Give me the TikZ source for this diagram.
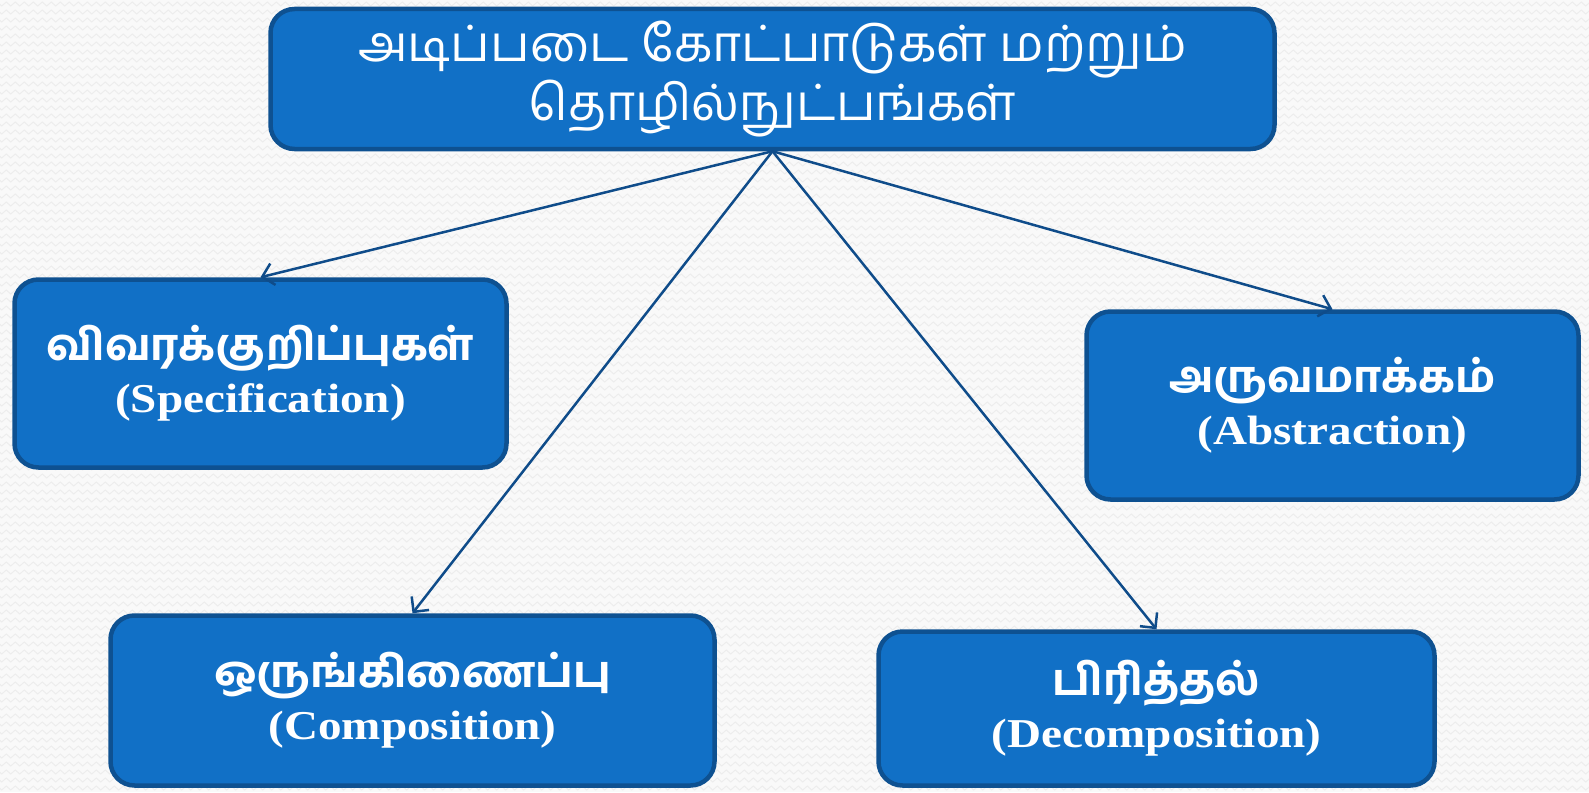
\documentclass[tikz,border=0pt]{standalone}
\usepackage{fontspec}
\setmainfont[FakeStretch=1.15]{Liberation Serif}
\newfontfamily\tamilfont[Script=Tamil, BoldFont={* Bold}]{Hind Madurai}
\usepackage{tikz}
\usetikzlibrary{calc, positioning, arrows.meta, decorations.pathmorphing}
\definecolor{boxfill}{HTML}{1170C6}
\definecolor{boxline}{HTML}{0E5191}
\definecolor{arrowcol}{HTML}{0F4C8A}
\definecolor{bgcol}{HTML}{F9F9F9}
\definecolor{bgzig}{HTML}{EDEDED}
\tikzset{
    root/.style={rectangle, rounded corners=24pt, draw=boxline, line width=4.5pt, fill=boxfill, text=white, align=center, font=\tamilfont\fontsize{50}{54}\selectfont},
    concept/.style={rectangle, rounded corners=24pt, draw=boxline, line width=4.5pt, fill=boxfill, text=white, align=center, font=\fontsize{41}{52}\selectfont\bfseries},
    arrow/.style={-{Straight Barb[length=11pt, width=22pt]}, line width=2.5pt, draw=arrowcol},
    zig/.style={draw=bgzig, line width=1pt, decorate, decoration={zigzag, segment length=9pt, amplitude=2pt}}
}
\newcommand{\tm}[1]{{\tamilfont\fontsize{43.5}{52}\selectfont #1}}
\begin{document}
\begin{tikzpicture}[x=1pt, y=-1pt]
        % Page
        \useasboundingbox (0,0) rectangle (1589,792);
        \begin{scope}
            \clip (0,0) rectangle (1589,792);
            \fill[bgcol] (0,0) rectangle (1589,792);
            \foreach \r in {4,12,...,796}
                \draw[zig] (-5,\r) -- (1595,\r);
        \end{scope}
        
        % Root
        \node[root, minimum width=1004pt, minimum height=140pt] (Root) at (772.5,79) {அடிப்படை கோட்பாடுகள் மற்றும்\\தொழில்நுட்பங்கள்};
        
        % Concepts
        \node[concept, minimum width=492pt, minimum height=188pt] (Spec) at (260.5,373.5) {\tm{விவரக்குறிப்புகள்}\\(Specification)};
        \node[concept, minimum width=492pt, minimum height=188pt] (Abst) at (1332.5,405.5) {\tm{அருவமாக்கம்}\\(Abstraction)};
        \node[concept, minimum width=604pt, minimum height=170pt] (Comp) at (412.5,700.5) {\tm{ஒருங்கிணைப்பு}\\(Composition)};
        \node[concept, minimum width=556pt, minimum height=154pt] (Decomp) at (1156.5,708.5) {\tm{பிரித்தல்}\\(Decomposition)};
        
        \draw[arrow] (Root.south) -- (Spec.north);
        \draw[arrow] (Root.south) -- (Comp.north);
        \draw[arrow] (Root.south) -- (Decomp.north);
        \draw[arrow] (Root.south) -- (Abst.north);
    \end{tikzpicture}
\end{document}
